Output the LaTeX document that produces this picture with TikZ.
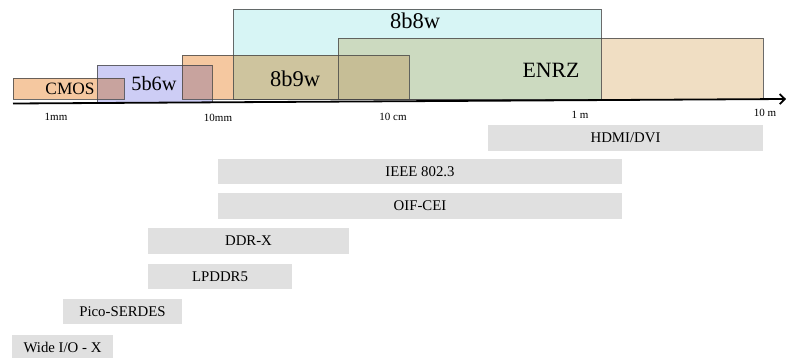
\documentclass[tikz,border=0pt]{standalone}
\usepackage{fontspec}
\setmainfont{Liberation Serif}
\usetikzlibrary{arrows.meta}
\definecolor{cOrange}{RGB}{245,200,160}
\definecolor{cTan}{RGB}{240,222,195}
\definecolor{cBlue}{RGB}{205,205,245}
\definecolor{cCyan}{RGB}{215,245,245}
\definecolor{cMauve}{RGB}{200,163,158}
\definecolor{cOlive}{RGB}{206,196,158}
\definecolor{cDkOlive}{RGB}{198,190,150}
\definecolor{cGreen}{RGB}{204,218,192}
\definecolor{cGray}{RGB}{224,224,224}
\definecolor{cEdge}{RGB}{70,70,70}
\begin{document}
\begin{tikzpicture}[x=1pt,y=-1pt,
  edge/.style={draw=cEdge, draw opacity=0.8, line width=0.8pt},
  bar/.style={fill=cGray, draw=none, inner sep=0pt, font=\fontsize{14.8}{15}\selectfont},
  big/.style={inner sep=0pt, font=\fontsize{22.5}{23}\selectfont},
  tick/.style={inner sep=0pt, font=\fontsize{11}{12}\selectfont}]
\useasboundingbox (0,0) rectangle (786,358);
% base fills
\fill[cOrange] (13,78) rectangle (124,99);
\fill[cBlue] (97,65) rectangle (212,102);
\fill[cOrange] (182,55) rectangle (409,99);
\fill[cTan] (338,38) rectangle (763,99);
\fill[cCyan] (233,9) rectangle (601,99);
% overlaps
\fill[cMauve] (97,78) rectangle (124,99);
\fill[cMauve] (182,65) rectangle (212,99);
\fill[cOlive] (233,55) rectangle (338,99);
\fill[cGreen] (338,38) rectangle (601,99);
\fill[cDkOlive] (338,55) rectangle (409,99);
% outlines
\draw[edge] (338,38) rectangle (763,99);
\draw[edge] (182,55) rectangle (409,99);
\draw[edge] (13,78) rectangle (124,99);
\draw[edge] (97,65) rectangle (212,102);
\draw[edge] (233,9) rectangle (601,99);
% labels
\node[big, font=\fontsize{17.3}{18}\selectfont] (cmos) at (70,89) {CMOS};
\node[big, font=\fontsize{20.3}{21}\selectfont] (b56) at (154,84) {5b6w};
\node[big] (b89) at (295,79) {8b9w};
\node[big] (b88) at (415,21) {8b8w};
\node[big, font=\fontsize{21.8}{22}\selectfont] (enrz) at (551,70) {ENRZ};
% axis
\coordinate (a0) at (13,103.5);
\coordinate (a1) at (786,99);
\draw[line width=1.8pt, -{Straight Barb[length=5pt,width=10pt]}] (a0) -- (a1);
\node[tick] (t1) at (56,117) {1mm};
\node[tick] (t2) at (218,118) {10mm};
\node[tick] (t3) at (393,117) {10 cm};
\node[tick] (t4) at (580,115) {1 m};
\node[tick] (t5) at (765,113) {10 m};
% bars
\node[bar, minimum width=275pt, minimum height=26pt] (hdmi) at (625.5,138) {HDMI/DVI};
\node[bar, minimum width=404pt, minimum height=25pt] (ieee) at (420,171.5) {IEEE 802.3};
\node[bar, minimum width=404pt, minimum height=26pt] (oif) at (420,206) {OIF-CEI};
\node[bar, minimum width=201pt, minimum height=26pt] (ddr) at (248.5,241) {DDR-X};
\node[bar, minimum width=144pt, minimum height=25pt] (lp) at (220,276.5) {LPDDR5};
\node[bar, minimum width=119pt, minimum height=25pt] (pico) at (122.5,311.5) {Pico-SERDES};
\node[bar, minimum width=101pt, minimum height=25pt] (wide) at (62.5,347.5) {Wide I/O - X};
\end{tikzpicture}
\end{document}
